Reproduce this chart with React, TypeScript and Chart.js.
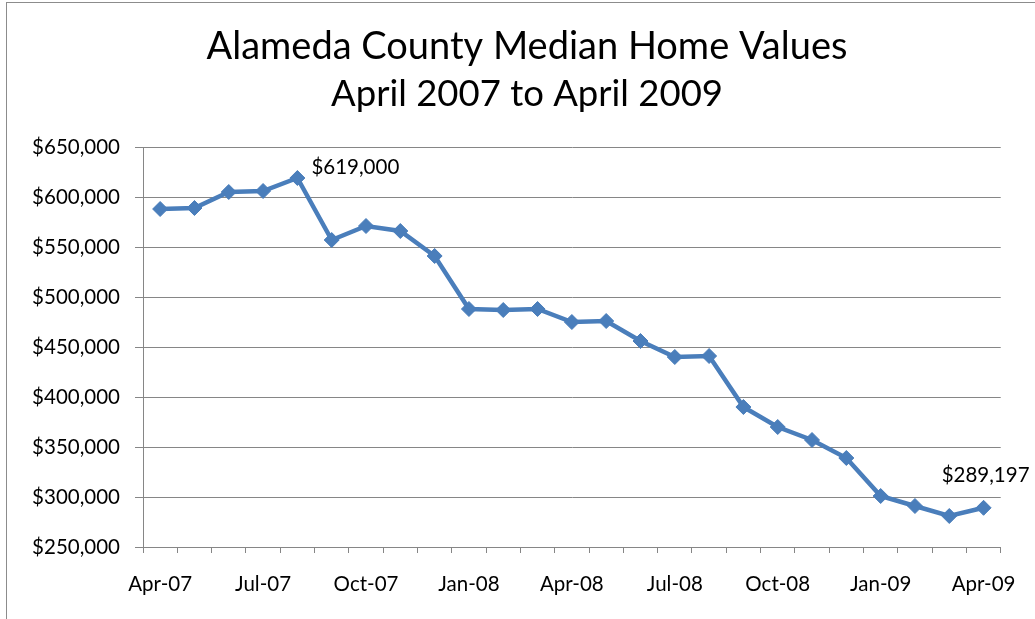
import { useEffect, useRef } from 'react';
import { Chart, registerables } from 'chart.js';

Chart.register(...registerables);

const months = [
  'Apr-07', 'May-07', 'Jun-07', 'Jul-07', 'Aug-07', 'Sep-07', 'Oct-07', 'Nov-07', 'Dec-07',
  'Jan-08', 'Feb-08', 'Mar-08', 'Apr-08', 'May-08', 'Jun-08', 'Jul-08', 'Aug-08', 'Sep-08',
  'Oct-08', 'Nov-08', 'Dec-08', 'Jan-09', 'Feb-09', 'Mar-09', 'Apr-09',
];
const medianValues = [
  588000, 589000, 605000, 606000, 619000, 557000, 571000, 566000, 541000,
  488000, 487000, 488000, 475000, 476000, 456000, 440000, 441000, 390000,
  370000, 357000, 339000, 301000, 291000, 281000, 289197,
];
const yMin = 250000;
const yMax = 650000;
const yStep = 50000;
const titleLines = ['Alameda County Median Home Values', 'April 2007 to April 2009'];
const labeledIndexes = [4, 24];

const FONT = 'Lato';
const GRID = '#868686';
const BLUE = '#4A7EBB';
const TICK_SIZE = 20.5;

const fmt = (v: number) => '$' + Math.round(v).toLocaleString('en-US');

const framePlugin = {
  id: 'frame',
  beforeDraw(chart: any) {
    const { ctx } = chart;
    ctx.save();
    ctx.fillStyle = '#ffffff';
    ctx.fillRect(0, 0, chart.width, chart.height);
    ctx.strokeStyle = '#8c8c8c';
    ctx.lineWidth = 1;
    ctx.strokeRect(6.5, 2.5, chart.width + 20, chart.height + 20);
    // chart title, centred on the full chart object
    ctx.fillStyle = '#000';
    ctx.textAlign = 'center';
    ctx.textBaseline = 'alphabetic';
    ctx.font = `38px ${FONT}`;
    ctx.fillText(titleLines[0], 527, 59);
    ctx.font = `36.5px ${FONT}`;
    ctx.fillText(titleLines[1], 527, 106);
    ctx.restore();
  },
};

const pointLabelPlugin = {
  id: 'pointLabels',
  afterDatasetsDraw(chart: any) {
    const { ctx } = chart;
    const meta = chart.getDatasetMeta(0);
    ctx.save();
    ctx.font = `${TICK_SIZE}px ${FONT}`;
    ctx.fillStyle = '#000';
    ctx.textBaseline = 'alphabetic';
    labeledIndexes.forEach((i, k) => {
      const pt = meta.data[i];
      const text = fmt(medianValues[i]);
      if (k === 0) {
        ctx.textAlign = 'left';
        ctx.fillText(text, pt.x + 14, pt.y - 4);
      } else {
        ctx.textAlign = 'center';
        ctx.fillText(text, pt.x + 2, pt.y - 26);
      }
    });
    ctx.restore();
  },
};

export default function App() {
  const ref = useRef<HTMLCanvasElement>(null);
  useEffect(() => {
    document.body.style.margin = '0';
    document.documentElement.style.overflow = 'hidden';
    const chart = new Chart(ref.current!, {
      type: 'line',
      data: {
        labels: months,
        datasets: [
          {
            data: medianValues,
            borderColor: BLUE,
            backgroundColor: BLUE,
            borderWidth: 4.5,
            pointStyle: 'rectRot',
            pointRadius: 7.5,
            pointBorderWidth: 1,
            pointBackgroundColor: BLUE,
            pointBorderColor: BLUE,
            tension: 0,
          },
        ],
      },
      options: {
        animation: false,
        responsive: false,
        layout: { padding: { left: 6, right: 27, top: 147, bottom: 0 } },
        plugins: {
          legend: { display: false },
          tooltip: { enabled: false },
          title: { display: false },
        },
        scales: {
          x: {
            offset: true,
            grid: {
              offset: true,
              drawOnChartArea: false,
              drawTicks: true,
              tickLength: 6,
              color: GRID,
            },
            border: { color: GRID, width: 1 },
            ticks: {
              autoSkip: false,
              maxRotation: 0,
              padding: 19,
              color: '#000',
              font: { family: FONT, size: TICK_SIZE },
              callback: (_v: any, i: number) => (i % 3 === 0 ? months[i] : ''),
            },
            afterFit: (s: any) => {
              s.height = 72;
            },
          },
          y: {
            min: yMin,
            max: yMax,
            grid: { color: GRID, tickLength: 8, lineWidth: 1 },
            border: { color: GRID, width: 1 },
            ticks: {
              stepSize: yStep,
              padding: 15,
              color: '#000',
              font: { family: FONT, size: TICK_SIZE },
              callback: (v: any) => fmt(Number(v)),
            },
            afterFit: (s: any) => {
              s.width = 137;
            },
          },
        },
      },
      plugins: [framePlugin, pointLabelPlugin],
    });
    return () => chart.destroy();
  }, []);
  return <canvas ref={ref} width={1035} height={619} style={{ display: 'block' }} />;
}
